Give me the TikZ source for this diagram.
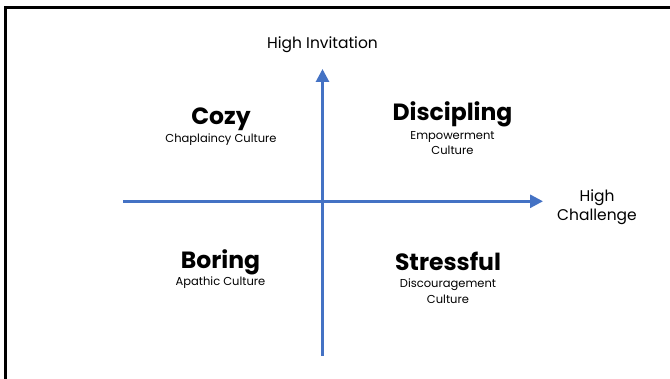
\documentclass[tikz,border=0pt]{standalone}
\usepackage{fontspec}
\setmainfont{Poppins}
\usetikzlibrary{arrows.meta}
\definecolor{axisblue}{HTML}{4472C4}

\begin{document}
\begin{tikzpicture}[x=1pt,y=1pt,
  axis/.style={axisblue, line width=2.8pt, -{Triangle[width=13pt,length=13pt]}},
  quadname/.style={anchor=base, font=\bfseries\fontsize{23.5}{26}\selectfont},
  culture/.style={anchor=base, align=center, font=\fontsize{11.5}{15.7}\selectfont},
  axislabel/.style={anchor=base, align=center, font=\fontsize{15.5}{19}\selectfont}]
      \useasboundingbox (0,0) rectangle (670,379);
      \draw[line width=3pt] (5.5,0) -- (5.5,371.3) -- (670,371.3);
      % axes
      \coordinate (bottom) at (322.5,23.3);
      \coordinate (top) at (322.5,310);
      \coordinate (left) at (123,177.7);
      \coordinate (right) at (543,177.7);
      \draw[axis] (bottom) -- (top);
      \draw[axis] (left) -- (right);
      \node[axislabel] (invitation) at (322.5,330.7) {High Invitation};
      \node[axislabel] (challenge) at (597,158.3) {High\\Challenge};
      % quadrants
      \node[quadname] (cozy) at (221,254) {Cozy};
      \node[culture] (chaplaincy) at (221,236.3) {Chaplaincy Culture};
      \node[quadname] (discipling) at (452.5,258) {Discipling};
      \node[culture] (empowerment) at (452.5,224) {Empowerment\\Culture};
      \node[quadname] (boring) at (220.5,110) {Boring};
      \node[culture] (apathic) at (220.5,93.3) {Apathic Culture};
      \node[quadname] (stressful) at (448,108) {Stressful};
      \node[culture] (discouragement) at (448,75.3) {Discouragement\\Culture};
\end{tikzpicture}
\end{document}
